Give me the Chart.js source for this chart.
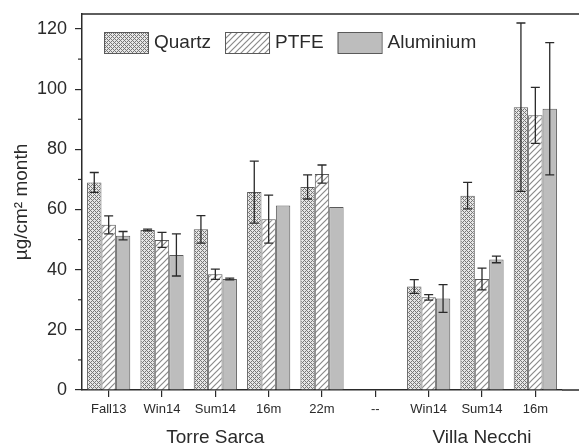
<!DOCTYPE html>
<html lang="en">
  <head>
    <meta charset="UTF-8" />
    <title>Deposition flux by filter type</title>
    <script src="https://cdn.jsdelivr.net/npm/chart.js"></script>
    <style>
      html, body { margin: 0; padding: 0; background: #fff; }
      #wrap { width: 579px; height: 446px; }
    </style>
  </head>
  <body>
    <div id="wrap"><canvas id="chart" width="579" height="446"></canvas></div>

    <script>
      // categories (x) and site names shown under them
      var categories = ["Fall13", "Win14", "Sum14", "16m", "22m", "--", "Win14", "Sum14", "16m"];
      var siteLabels = ["", "", "Torre Sarca", "", "", "", "", "Villa Necchi", ""];

      // values, ug/cm2 month
      var quartz = [69.0, 53.2, 53.4, 65.8, 67.5, null, 34.4, 64.6, 94.0];
      var quartzErr = [3.3, 0.3, 4.6, 10.3, 4.0, null, 2.3, 4.4, 28.0];
      var ptfe = [54.9, 49.9, 38.5, 56.8, 71.8, null, 30.8, 36.9, 91.3];
      var ptfeErr = [3.0, 2.5, 1.7, 8.0, 3.0, null, 0.9, 3.6, 9.3];
      var alu = [51.3, 44.9, 36.9, 61.3, 60.8, null, 30.4, 43.4, 93.5];
      var aluErr = [1.4, 7.0, 0.3, null, null, null, 4.6, 1.1, 22.0];

      var yTicks = [0, 20, 40, 60, 80, 100, 120];
      var yMinor = [10, 30, 50, 70, 90, 110];

      var ink = "#2a2a2a";
      var font = "Arial, 'Liberation Sans', sans-serif";
      var ctx = document.getElementById("chart").getContext("2d");

      function pattern(size, draw) {
        var c = document.createElement("canvas");
        c.width = size;
        c.height = size;
        draw(c.getContext("2d"), size);
        return ctx.createPattern(c, "repeat");
      }

      // cross hatch for quartz
      var crossHatch = pattern(4, function (g, s) {
        g.fillStyle = "#e6e6e6";
        g.fillRect(0, 0, s, s);
        g.fillStyle = "#777";
        g.fillRect(0, 0, 1, 1);
        g.fillRect(2, 2, 1, 1);
        g.fillRect(1, 1, 1, 1);
        g.fillRect(3, 3, 1, 1);
        g.fillRect(3, 1, 1, 1);
        g.fillRect(1, 3, 1, 1);
      });

      // diagonal hatch for PTFE
      var diagHatch = pattern(6, function (g, s) {
        g.fillStyle = "#fff";
        g.fillRect(0, 0, s, s);
        g.strokeStyle = "#8a8a8a";
        g.lineWidth = 1.2;
        g.beginPath();
        g.moveTo(-1, s + 1);
        g.lineTo(s + 1, -1);
        g.moveTo(-1, 1);
        g.lineTo(1, -1);
        g.moveTo(s - 1, s + 1);
        g.lineTo(s + 1, s - 1);
        g.stroke();
      });

      var errors = [quartzErr, ptfeErr, aluErr];

      // error bars, minor ticks, top frame line, legend inside the plot
      var extras = {
        id: "extras",
        afterDatasetsDraw: function (chart) {
          var y = chart.scales.y;
          var c = chart.ctx;
          c.save();
          c.strokeStyle = ink;
          c.lineWidth = 1.3;
          chart.data.datasets.forEach(function (ds, i) {
            var meta = chart.getDatasetMeta(i);
            meta.data.forEach(function (bar, j) {
              var v = ds.data[j];
              var e = errors[i][j];
              if (v == null || e == null) return;
              var top = y.getPixelForValue(v + e);
              var bot = y.getPixelForValue(v - e);
              c.beginPath();
              c.moveTo(bar.x, top);
              c.lineTo(bar.x, bot);
              c.moveTo(bar.x - 4.5, top);
              c.lineTo(bar.x + 4.5, top);
              c.moveTo(bar.x - 4.5, bot);
              c.lineTo(bar.x + 4.5, bot);
              c.stroke();
            });
          });
          c.restore();
        },
        afterDraw: function (chart) {
          var a = chart.chartArea;
          var y = chart.scales.y;
          var c = chart.ctx;
          c.save();
          c.strokeStyle = ink;
          c.lineWidth = 1.5;
          c.beginPath();
          c.moveTo(a.left, a.top);
          c.lineTo(chart.width, a.top);
          c.moveTo(a.right, a.bottom);
          c.lineTo(chart.width, a.bottom);
          c.stroke();
          c.lineWidth = 1.2;
          yMinor.forEach(function (v) {
            var py = y.getPixelForValue(v);
            c.beginPath();
            c.moveTo(a.left - 4, py);
            c.lineTo(a.left, py);
            c.stroke();
          });

          // legend
          c.font = "19px " + font;
          c.textBaseline = "middle";
          c.fillStyle = ink;
          var lx = a.left + 22;
          var ly = a.top + 18;
          chart.data.datasets.forEach(function (ds) {
            c.fillStyle = ds.backgroundColor;
            c.fillRect(lx, ly, 44, 21);
            c.strokeStyle = "#5a5a5a";
            c.lineWidth = 1;
            c.strokeRect(lx + 0.5, ly + 0.5, 44, 21);
            c.fillStyle = ink;
            c.fillText(ds.label, lx + 50, ly + 11);
            lx += 50 + c.measureText(ds.label).width + 14;
          });
          c.restore();
        },
      };

      new Chart(ctx, {
        type: "bar",
        data: {
          labels: categories,
          datasets: [
            {
              label: "Quartz",
              data: quartz,
              backgroundColor: crossHatch,
              borderColor: "#5a5a5a",
              borderWidth: 1,
            },
            {
              label: "PTFE",
              data: ptfe,
              backgroundColor: diagHatch,
              borderColor: "#5a5a5a",
              borderWidth: 1,
            },
            {
              label: "Aluminium",
              data: alu,
              backgroundColor: "#bdbdbd",
              borderColor: "#5a5a5a",
              borderWidth: 1,
            },
          ],
        },
        options: {
          responsive: false,
          animation: false,
          layout: { padding: { top: 14, right: 17, left: 0, bottom: 0 } },
          datasets: {
            bar: { categoryPercentage: 0.81, barPercentage: 1.0 },
          },
          plugins: {
            tooltip: { enabled: false },
            legend: { display: false },
          },
          scales: {
            x: {
              type: "category",
              offset: true,
              weight: 0,
              grid: {
                offset: false,
                drawOnChartArea: false,
                drawTicks: true,
                tickLength: 7,
                color: ink,
                lineWidth: 1.2,
              },
              border: { display: true, color: ink, width: 1.5 },
              ticks: {
                color: ink,
                padding: 5,
                autoSkip: false,
                maxRotation: 0,
                font: { family: font, size: 13 },
              },
              afterFit: function (s) { s.height = 28; },
            },
            x2: {
              type: "category",
              labels: siteLabels,
              position: "bottom",
              offset: true,
              weight: 1,
              grid: { display: false },
              border: { display: false },
              ticks: {
                color: ink,
                padding: 0,
                autoSkip: false,
                maxRotation: 0,
                font: { family: font, size: 19 },
              },
              afterFit: function (s) { s.height = 28; },
            },
            y: {
              min: 0,
              max: 125,
              grid: {
                drawOnChartArea: false,
                drawTicks: true,
                tickLength: 7,
                color: ink,
                lineWidth: 1.2,
              },
              border: { display: true, color: ink, width: 1.5 },
              afterBuildTicks: function (s) {
                s.ticks = yTicks.map(function (v) { return { value: v }; });
              },
              ticks: {
                color: ink,
                padding: 8,
                font: { family: font, size: 18 },
              },
              title: {
                display: true,
                text: "\u00b5g/cm\u00b2 month",
                color: ink,
                padding: { top: 10, bottom: 0 },
                font: { family: font, size: 19 },
              },
              afterFit: function (s) {
                s.width = 82;
                s.paddingTop = 0;
                s.paddingBottom = 0;
              },
            },
          },
        },
        plugins: [extras],
      });
    </script>
  </body>
</html>
